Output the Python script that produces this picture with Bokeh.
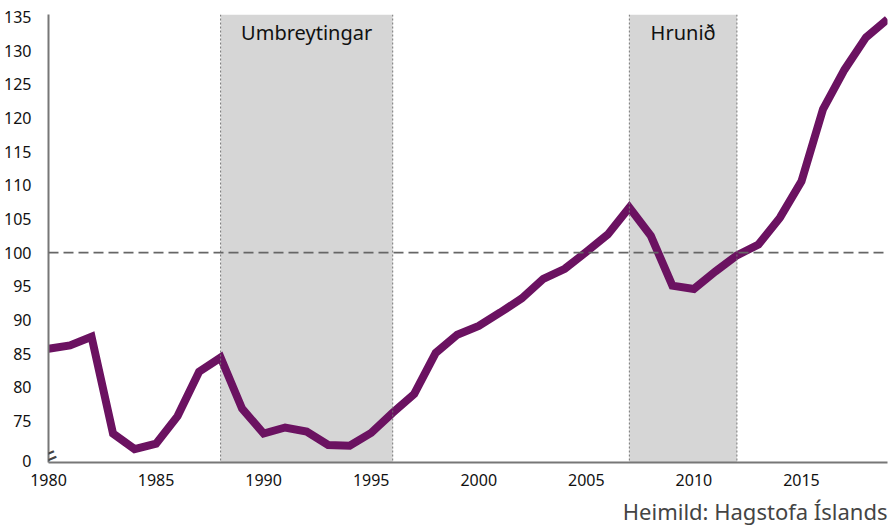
from bokeh.plotting import figure
from bokeh.models import FixedTicker, BoxAnnotation, Span, Label, Title, Range1d
from bokeh.embed import file_html
from bokeh.resources import INLINE

years = list(range(1980, 2020))
values = [85.7, 86.2, 87.5, 73.1, 70.8, 71.6, 75.7, 82.3, 84.4, 76.8,
          73.1, 74.0, 73.4, 71.4, 71.3, 73.2, 76.2, 79.0, 85.1, 87.8,
          89.1, 91.1, 93.2, 96.1, 97.6, 100.1, 102.7, 106.7, 102.5, 95.1,
          94.6, 97.2, 99.6, 101.2, 105.2, 110.6, 121.3, 127.2, 132.0, 134.7]

period_names = ["Umbreytingar", "Hrunið"]
period_start = [1988, 2007]
period_end = [1996, 2012]

y_ticks = [69, 75, 80, 85, 90, 95, 100, 105, 110, 115, 120, 125, 130, 135]
y_tick_labels = ["0"] + [str(v) for v in y_ticks[1:]]
x_ticks = [1980, 1985, 1990, 1995, 2000, 2005, 2010, 2015]
reference_level = 100
source_text = "Heimild: Hagstofa Íslands"

FONT = "Noto Sans"

p = figure(frame_width=839, frame_height=448, output_backend="svg",
           toolbar_location=None,
           x_range=Range1d(1980, 2019), y_range=Range1d(68.8, 135.4),
           min_border_left=48, min_border_right=7, min_border_top=14,
           min_border_bottom=0)
p.outline_line_color = None
p.grid.visible = False
p.background_fill_color = "white"

for s, e, name in zip(period_start, period_end, period_names):
    p.add_layout(BoxAnnotation(left=s, right=e, fill_color="#d6d6d6",
                               fill_alpha=1.0, line_color=None, level="underlay"))
    for xv in (s, e):
        p.add_layout(Span(location=xv, dimension="height", line_color="#777777",
                          line_width=1, line_dash="2 2"))
    p.add_layout(Label(x=(s + e) / 2, y=134.8, text=name, text_align="center",
                       text_baseline="top", text_font=FONT, text_font_size="20px",
                       text_color="#111111"))

p.add_layout(Span(location=reference_level, dimension="width", line_color="#666666",
                  line_width=1.8, line_dash="10 5"))

p.line(years, values, line_color="#6b1261", line_width=8, line_join="miter")

p.yaxis.ticker = FixedTicker(ticks=y_ticks)
p.yaxis.major_label_overrides = {t: l for t, l in zip(y_ticks, y_tick_labels)}
p.xaxis.ticker = FixedTicker(ticks=x_ticks)
for ax in (p.xaxis, p.yaxis):
    ax.axis_line_color = "#777777"
    ax.axis_line_width = 2
    ax.major_tick_line_color = None
    ax.minor_tick_line_color = None
    ax.major_label_text_font = FONT
    ax.major_label_text_font_size = "16px"
    ax.major_label_text_color = "#111111"
p.yaxis.major_label_standoff = 11
p.xaxis.major_label_standoff = 5

# axis break mark
p.add_layout(Label(x=1980, y=69.8, text="=", text_align="center",
                   text_baseline="middle", angle=0.4, text_font=FONT,
                   text_font_size="30px", text_color="#444444"))

p.add_layout(Title(text=source_text, align="right", text_font=FONT,
                   text_font_size="22px", text_font_style="normal",
                   text_color="#444444", standoff=10), "below")

open("out.html", "w").write(file_html(p, INLINE))
